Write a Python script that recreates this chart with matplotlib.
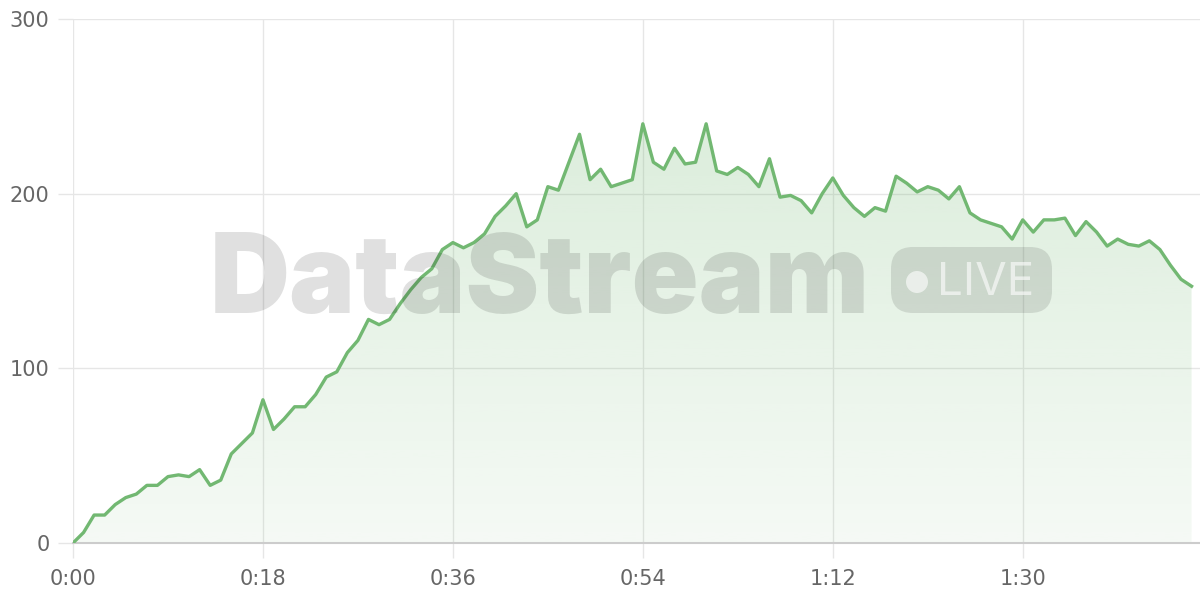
import numpy as np
import matplotlib
matplotlib.use("Agg")
import matplotlib.pyplot as plt
from matplotlib.patches import FancyBboxPatch, Circle
from matplotlib.transforms import IdentityTransform

# 数据: 每秒一个点
seconds = list(range(107))
values = [0, 6, 16, 16, 22, 26, 28, 33, 33, 38,
          39, 38, 42, 33, 36, 51, 57, 63, 82, 65,
          71, 78, 78, 85, 95, 98, 109, 116, 128, 125,
          128, 137, 145, 152, 157, 168, 172, 169, 172, 177,
          187, 193, 200, 181, 185, 204, 202, 218, 234, 208,
          214, 204, 206, 208, 240, 218, 214, 226, 217, 218,
          240, 213, 211, 215, 211, 204, 220, 198, 199, 196,
          189, 200, 209, 199, 192, 187, 192, 190, 210, 206,
          201, 204, 202, 197, 204, 189, 185, 183, 181, 174,
          185, 178, 185, 185, 186, 176, 184, 178, 170, 174,
          171, 170, 173, 168, 159, 151, 147]
x_ticks = [0, 18, 36, 54, 72, 90]
y_ticks = [0, 100, 200, 300]

line_color = '#72b872'
grid_color = '#e6e6e6'
text_color = '#666666'

fig = plt.figure(figsize=(12, 6), dpi=100)
ax = fig.add_axes([73 / 1200, 57 / 600, 1127 / 1200, 524 / 600])

x = np.array(seconds)
y = np.array(values)

ax.set_xlim(0, 106.8)
ax.set_ylim(0, 300)

# 渐变填充
poly = ax.fill_between(x, y, 0, color='none', lw=0)
top = y.max()
grad = np.linspace(0.07, 0.25, 256).reshape(-1, 1)
rgba = np.zeros((256, 1, 4))
rgba[..., :3] = matplotlib.colors.to_rgb(line_color)
rgba[..., 3] = grad
im = ax.imshow(rgba, extent=[0, x.max(), 0, top], origin='lower',
               aspect='auto', zorder=1)
im.set_clip_path(poly.get_paths()[0], ax.transData)

ax.plot(x, y, color=line_color, lw=2.4, zorder=4)

# 网格与坐标轴
ax.set_xticks(x_ticks)
ax.set_xticklabels(['%d:%02d' % (s // 60, s % 60) for s in x_ticks])
ax.set_yticks(y_ticks)
ax.grid(True, color=grid_color, lw=1)
ax.set_axisbelow(True)
for s in ['top', 'right', 'left']:
    ax.spines[s].set_visible(False)
ax.spines['bottom'].set_color('#cccccc')
ax.spines['bottom'].set_linewidth(1.5)
ax.tick_params(axis='both', length=11, width=1, color=grid_color,
               labelsize=15, labelcolor=text_color)
ax.tick_params(axis='x', pad=8)
ax.tick_params(axis='y', pad=6)
ax.axvline(0, color='#dddddd', lw=1.2, zorder=0)

# 水印
wm = fig.text(210, 287, 'DataStream', transform=IdentityTransform(),
              fontsize=80, fontweight='black', family=['Inter', 'DejaVu Sans'],
              color='black', alpha=0.12, va='baseline', ha='left', zorder=3)
fig.canvas.draw()
w = wm.get_window_extent().width
wm.set_fontsize(80 * 660 / w)

badge = FancyBboxPatch((891, 287), 161, 66,
                       boxstyle='round,pad=0,rounding_size=22',
                       transform=IdentityTransform(), facecolor='black',
                       edgecolor='none', alpha=0.11, zorder=3)
fig.add_artist(badge)
dot = Circle((917, 318), 11, transform=IdentityTransform(),
             facecolor='white', edgecolor='none', alpha=0.6, zorder=3)
fig.add_artist(dot)
fig.text(937, 305, 'LIVE', transform=IdentityTransform(), fontsize=33,
         family=['Inter', 'DejaVu Sans'], color='white', alpha=0.6,
         va='baseline', ha='left', zorder=3)

fig.savefig('out.png', dpi=100)
